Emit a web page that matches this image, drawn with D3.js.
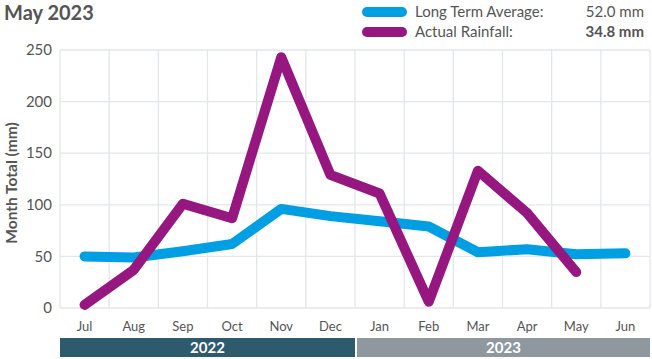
<!DOCTYPE html>
<html><head><meta charset="utf-8">
<script src="https://cdn.jsdelivr.net/npm/d3@7"></script>
<style>body{margin:0;background:#fff}svg{display:block;font-family:Lato,"Open Sans",sans-serif}</style>
</head><body><svg id="c" width="652" height="359"></svg>
<script>
const months = ["Jul","Aug","Sep","Oct","Nov","Dec","Jan","Feb","Mar","Apr","May","Jun"];
const longTermAvg = [50,49,55,62,96,89,84,79,54,57,52,53];
const actualRainfall = [3,37,101,87,243,129,111,6,133,92,34.8];
const yTicks = [0,50,100,150,200,250];
const years = [{label:"2022",from:0,to:6},{label:"2023",from:6,to:12}];
const title = "May 2023";
const legendItems = [{name:"Long Term Average:",value:"52.0 mm",color:"#009fe3",bold:false},{name:"Actual Rainfall:",value:"34.8 mm",color:"#95177f",bold:true}];

const svg = d3.select("#c");
const L=60,R=650,T=50,B=308;
const x = d3.scaleBand().domain(months).range([L,R]);
const y = d3.scaleLinear().domain([0,250]).range([B,T]);

// grid
svg.append("g").selectAll("line").data(yTicks).join("line")
  .attr("x1",L).attr("x2",R).attr("y1",d=>y(d)).attr("y2",d=>y(d))
  .attr("stroke","#e3e7ea").attr("stroke-width",1.3);
const vb = months.map(m=>x(m)).concat([R]);
svg.append("g").selectAll("line").data(vb).join("line")
  .attr("x1",d=>d).attr("x2",d=>d).attr("y1",T).attr("y2",B)
  .attr("stroke","#e3e7ea").attr("stroke-width",1.3);

// y axis labels
svg.append("g").selectAll("text").data(yTicks).join("text")
  .attr("x",52).attr("y",d=>y(d)).attr("dy","0.35em").attr("text-anchor","end")
  .attr("font-size",15).attr("fill","#555").text(d=>d);
svg.append("text").attr("transform",`translate(17,${(T+B)/2 + 4}) rotate(-90)`)
  .attr("text-anchor","middle").attr("font-size",15.5).attr("font-weight","bold")
  .attr("fill","#555").text("Month Total (mm)");

// x labels
svg.append("g").selectAll("text").data(months).join("text")
  .attr("x",d=>x(d)+x.bandwidth()/2).attr("y",331).attr("text-anchor","middle")
  .attr("font-size",13).attr("fill","#555").text(d=>d);

// year bars
const yb = svg.append("g");
years.forEach((yr,i)=>{
  const x0 = x(months[yr.from]) + (i?2:0);
  const x1 = yr.to<months.length ? x(months[yr.to]) : R;
  yb.append("rect").attr("x",x0).attr("y",338).attr("width",x1-x0).attr("height",19)
    .attr("fill",i?"#8f989f":"#2d5a6d");
  yb.append("text").attr("x",(x0+x1)/2).attr("y",353).attr("text-anchor","middle")
    .attr("font-size",15).attr("font-weight","bold").attr("fill","#fff").text(yr.label);
});

// lines
const line = d3.line().x((d,i)=>x(months[i])+x.bandwidth()/2).y(d=>y(d));
svg.append("path").datum(longTermAvg).attr("d",line).attr("fill","none")
  .attr("stroke","#009fe3").attr("stroke-width",10).attr("stroke-linecap","round").attr("stroke-linejoin","round");
svg.append("path").datum(actualRainfall).attr("d",line).attr("fill","none")
  .attr("stroke","#95177f").attr("stroke-width",10).attr("stroke-linecap","round").attr("stroke-linejoin","round");

// title
svg.append("text").attr("x",4).attr("y",20).attr("font-size",20).attr("font-weight","bold")
  .attr("fill","#555").text(title);

// legend
const lg = svg.append("g");
legendItems.forEach((d,i)=>{
  const cy = 12 + i*20;
  lg.append("line").attr("x1",367).attr("x2",402).attr("y1",cy).attr("y2",cy)
    .attr("stroke",d.color).attr("stroke-width",10).attr("stroke-linecap","round");
  lg.append("text").attr("x",415).attr("y",cy).attr("dy","0.35em").attr("font-size",15)
    .attr("fill","#555").text(d.name);
  lg.append("text").attr("x",644).attr("y",cy).attr("dy","0.35em").attr("font-size",15)
    .attr("text-anchor","end").attr("font-weight",d.bold?"bold":"normal").attr("fill","#555").text(d.value);
});
</script></body></html>
